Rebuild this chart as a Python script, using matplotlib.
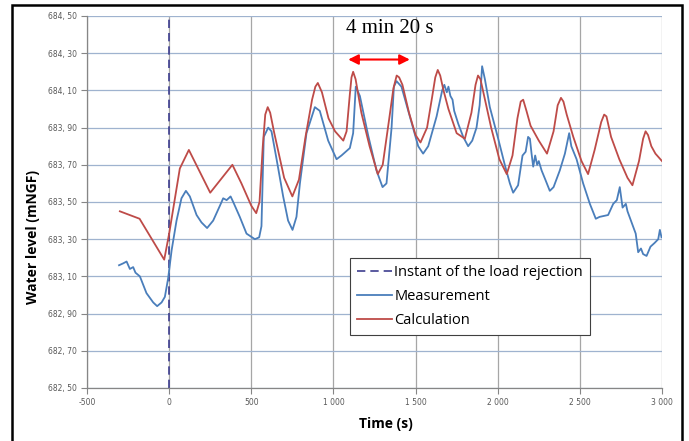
import numpy as np
import matplotlib.pyplot as plt
from matplotlib.patches import Rectangle

# calculated water level (red)
t_calc = [-300, -180, -30, 0, 65, 120, 250, 385, 440, 500, 530, 550, 570, 585, 600, 615,
          640, 700, 750, 790, 830, 870, 890, 905, 930, 970, 1010, 1060, 1080, 1100, 1110,
          1120, 1135, 1170, 1220, 1270, 1300, 1340, 1365, 1385, 1400, 1420, 1460, 1500,
          1530, 1570, 1600, 1620, 1635, 1650, 1670, 1700, 1750, 1800, 1840, 1865, 1880,
          1895, 1915, 1960, 2010, 2055, 2090, 2120, 2140, 2155, 2175, 2200, 2250, 2300,
          2340, 2365, 2385, 2400, 2420, 2460, 2510, 2550, 2590, 2630, 2648, 2662, 2690,
          2740, 2790, 2820, 2860, 2885, 2900, 2915, 2935, 2960, 3000]
h_calc = [683.45, 683.41, 683.19, 683.33, 683.68, 683.78, 683.55, 683.70, 683.60, 683.48,
          683.44, 683.50, 683.80, 683.97, 684.01, 683.98, 683.87, 683.63, 683.53, 683.62,
          683.85, 684.05, 684.12, 684.14, 684.09, 683.95, 683.88, 683.83, 683.88, 684.08,
          684.17, 684.20, 684.16, 683.98, 683.80, 683.65, 683.70, 683.95, 684.11, 684.18,
          684.17, 684.13, 683.98, 683.86, 683.82, 683.90, 684.06, 684.17, 684.21, 684.18,
          684.10, 684.00, 683.87, 683.84, 683.98, 684.13, 684.18, 684.16, 684.08, 683.90,
          683.73, 683.65, 683.75, 683.95, 684.04, 684.05, 683.99, 683.91, 683.83, 683.76,
          683.88, 684.02, 684.06, 684.04, 683.97, 683.85, 683.72, 683.65, 683.78, 683.93,
          683.97, 683.96, 683.85, 683.73, 683.63, 683.59, 683.72, 683.84, 683.88, 683.86,
          683.80, 683.76, 683.72]

# measured water level (blue)
t_meas = [-305, -280, -259, -239, -219, -205, -178, -138, -97, -73, -46, -26, -6, 15, 45,
          75, 102, 126, 167, 197, 231, 268, 309, 329, 350, 374, 390, 430, 471, 522, 548,
          562, 576, 603, 623, 654, 694, 724, 751, 775, 796, 836, 887, 917, 968, 1019, 1049,
          1100, 1120, 1136, 1161, 1211, 1262, 1299, 1323, 1354, 1368, 1384, 1414, 1465,
          1516, 1546, 1577, 1628, 1662, 1675, 1690, 1700, 1712, 1725, 1735, 1760, 1790,
          1820, 1845, 1871, 1890, 1905, 1922, 1952, 2003, 2043, 2074, 2094, 2124, 2151,
          2170, 2185, 2196, 2206, 2216, 2228, 2240, 2250, 2267, 2290, 2317, 2340, 2378,
          2409, 2435, 2448, 2480, 2520, 2561, 2597, 2620, 2672, 2703, 2725, 2743, 2760,
          2780, 2790, 2815, 2840, 2855, 2872, 2885, 2906, 2930, 2955, 2977, 2987, 2997]
h_meas = [683.16, 683.17, 683.18, 683.14, 683.15, 683.12, 683.10, 683.01, 682.96, 682.94,
          682.96, 682.99, 683.09, 683.24, 683.40, 683.52, 683.56, 683.53, 683.43, 683.39,
          683.36, 683.40, 683.48, 683.52, 683.51, 683.53, 683.50, 683.42, 683.33, 683.30,
          683.31, 683.37, 683.85, 683.90, 683.88, 683.73, 683.53, 683.40, 683.35, 683.42,
          683.60, 683.87, 684.01, 683.99, 683.83, 683.73, 683.75, 683.79, 683.87, 684.12,
          684.07, 683.86, 683.67, 683.58, 683.60, 683.90, 684.12, 684.15, 684.12, 683.96,
          683.80, 683.76, 683.80, 683.96, 684.10, 684.13, 684.09, 684.12, 684.07, 684.05,
          683.99, 683.92, 683.85, 683.80, 683.83, 683.90, 684.02, 684.23, 684.16, 684.01,
          683.84, 683.70, 683.60, 683.55, 683.59, 683.75, 683.77, 683.85, 683.84, 683.76,
          683.69, 683.75, 683.70, 683.72, 683.67, 683.62, 683.56, 683.58, 683.67, 683.76,
          683.87, 683.80, 683.73, 683.60, 683.49, 683.41, 683.42, 683.43, 683.49, 683.51,
          683.58, 683.47, 683.49, 683.45, 683.39, 683.33, 683.23, 683.25, 683.22, 683.21,
          683.26, 683.28, 683.30, 683.35, 683.31]

x_ticks = [-500, 0, 500, 1000, 1500, 2000, 2500, 3000]
x_labels = ['-500', '0', '500', '1 000', '1 500', '2 000', '2 500', '3 000']
y_ticks = [682.5, 682.7, 682.9, 683.1, 683.3, 683.5, 683.7, 683.9, 684.1, 684.3, 684.5]
y_labels = [f'{v:.2f}'.replace('.', ', ') for v in y_ticks]

# arrow marking the period
arrow_start = 1090
arrow_end = 1465
arrow_level = 684.266

blue = '#4a7ebb'
red = '#be4b48'

fig = plt.figure(figsize=(6.89, 4.41), dpi=100)
ax = fig.add_axes([87/689, 1 - 388/441, 575/689, 372/441])

# frame round the whole figure
fig.patches.append(Rectangle((12/689, -0.01), 670/689, 1 - 5/441 + 0.01,
                             transform=fig.transFigure, fill=False,
                             edgecolor='black', linewidth=1.8))

ax.axvline(0, color='#3d3d8f', linestyle=(0, (5, 3)), linewidth=1.2,
           label='Instant of the load rejection')
ax.plot(t_meas, h_meas, color=blue, linewidth=1.3, label='Measurement')
ax.plot(t_calc, h_calc, color=red, linewidth=1.3, label='Calculation')

ax.annotate('', xy=(arrow_start, arrow_level), xytext=(arrow_end, arrow_level),
            arrowprops=dict(arrowstyle='<|-|>', color='red', lw=1.5,
                            mutation_scale=15, shrinkA=0, shrinkB=0))
ax.text(1343, 684.433, '4 min 20 s', ha='center', va='center',
        fontsize=15, family='Liberation Serif')

ax.set_xlim(-500, 3000)
ax.set_ylim(682.5, 684.5)
ax.set_xticks(x_ticks)
ax.set_xticklabels(x_labels)
ax.set_yticks(y_ticks)
ax.set_yticklabels(y_labels)
ax.tick_params(labelsize=5.5, labelcolor='#595959', color='#868686', length=4, width=0.8)

ax.grid(True, axis='y', color='#9fb3cf', linewidth=0.9)
ax.grid(True, axis='x', color='#a6a6a6', linewidth=0.9)
ax.set_axisbelow(True)
for s in ['top', 'right']:
    ax.spines[s].set_visible(False)
for s in ['left', 'bottom']:
    ax.spines[s].set_color('#868686')
    ax.spines[s].set_linewidth(0.9)

ax.set_xlabel('Time (s)', fontsize=10, fontweight='bold', family='Open Sans')
ax.xaxis.set_label_coords((386 - 87) / 575, (388 - 417) / 372)
ax.set_ylabel('Water level (mNGF)', fontsize=10, fontweight='bold', family='Open Sans')
ax.yaxis.set_label_coords((40 - 87) / 575, (388 - 237) / 372)

leg = ax.legend(loc='upper left', bbox_to_anchor=((350 - 87) / 575, (388 - 258) / 372),
                borderaxespad=0, fancybox=False, edgecolor='#404040', framealpha=1,
                prop={'family': 'Open Sans', 'size': 10.5}, handlelength=2.4,
                handletextpad=0.15, borderpad=0.5, labelspacing=0.6)
leg.get_frame().set_linewidth(0.8)

plt.savefig('out.png', dpi=100)
